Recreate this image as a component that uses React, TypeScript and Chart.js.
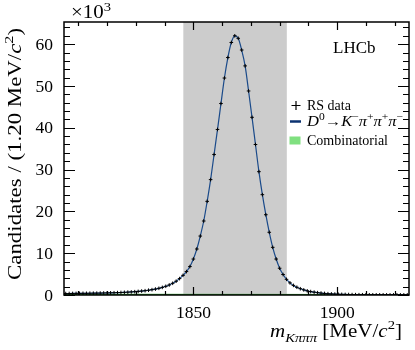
import React, { useEffect, useRef } from "react";
import { Chart, registerables } from "chart.js";

Chart.register(...registerables);

// Bin centres of m(Kπππ) in MeV/c^2 (1.20 MeV/c^2 bins)
const massBins = [
  1805.6, 1806.8, 1808.0, 1809.2, 1810.4, 1811.6, 1812.8, 1814.0, 1815.2, 1816.4,
  1817.6, 1818.8, 1820.0, 1821.2, 1822.4, 1823.6, 1824.8, 1826.0, 1827.2, 1828.4,
  1829.6, 1830.8, 1832.0, 1833.2, 1834.4, 1835.6, 1836.8, 1838.0, 1839.2, 1840.4,
  1841.6, 1842.8, 1844.0, 1845.2, 1846.4, 1847.6, 1848.8, 1850.0, 1851.2, 1852.4,
  1853.6, 1854.8, 1856.0, 1857.2, 1858.4, 1859.6, 1860.8, 1862.0, 1863.2, 1864.4,
  1865.6, 1866.8, 1868.0, 1869.2, 1870.4, 1871.6, 1872.8, 1874.0, 1875.2, 1876.4,
  1877.6, 1878.8, 1880.0, 1881.2, 1882.4, 1883.6, 1884.8, 1886.0, 1887.2, 1888.4,
  1889.6, 1890.8, 1892.0, 1893.2, 1894.4, 1895.6, 1896.8, 1898.0, 1899.2, 1900.4,
  1901.6, 1902.8, 1904.0, 1905.2, 1906.4, 1907.6, 1908.8, 1910.0, 1911.2, 1912.4,
  1913.6, 1914.8, 1916.0, 1917.2, 1918.4, 1919.6, 1920.8, 1922.0, 1923.2, 1924.4,
];

// RS data candidates per bin (x10^3)
const rsCandidates = [
  0.35, 0.36, 0.37, 0.38, 0.39, 0.40, 0.41, 0.42, 0.43, 0.44,
  0.46, 0.48, 0.50, 0.52, 0.54, 0.57, 0.60, 0.64, 0.68, 0.73,
  0.79, 0.86, 0.94, 1.03, 1.14, 1.27, 1.42, 1.60, 1.82, 2.08,
  2.40, 2.80, 3.30, 3.92, 4.70, 5.60, 6.80, 8.60, 11.0, 14.1,
  17.7, 22.4, 27.6, 33.6, 39.6, 45.8, 51.9, 56.8, 60.4, 62.0,
  61.4, 58.6, 54.8, 48.8, 42.5, 36.0, 29.5, 24.0, 19.2, 15.0,
  11.4, 8.6, 6.4, 4.9, 3.75, 2.9, 2.3, 1.85, 1.50, 1.22,
  1.00, 0.82, 0.68, 0.56, 0.46, 0.38, 0.31, 0.26, 0.22, 0.18,
  0.15, 0.13, 0.11, 0.09, 0.08, 0.07, 0.06, 0.05, 0.05, 0.04,
  0.04, 0.04, 0.04, 0.03, 0.03, 0.03, 0.03, 0.03, 0.03, 0.03,
];

// Total fit (D0 -> K- pi+ pi+ pi-), evaluated at the bin centres (x10^3)
const fitValues = rsCandidates;

// Combinatorial background (x10^3)
const combMass = [1805, 1925];
const combValues = [0.12, 0.08];

// Signal window (grey band)
const signalWindow = [1846.5, 1882.5];

// Axes
const xRange = [1805, 1925];
const yRange = [0, 65.3];
const xMajorTicks = [1850, 1900];
const xMinorTicks = [1810, 1820, 1830, 1840, 1850, 1860, 1870, 1880, 1890, 1900, 1910, 1920];
const yMajorTicks = [0, 10, 20, 30, 40, 50, 60];
const yMinorStep = 2;

const FAM = '"Liberation Serif", "DejaVu Serif", "Times New Roman", serif';

type Seg = { t: string; it?: boolean; sup?: boolean; sub?: boolean };

function segFont(s: Seg, size: number) {
  const sz = s.sup || s.sub ? size * 0.7 : size;
  return `${s.it ? "italic " : ""}${sz}px ${FAM}`;
}

function drawRich(
  ctx: CanvasRenderingContext2D,
  segs: Seg[],
  x: number,
  y: number,
  size: number,
  align: "left" | "center" | "right",
  targetW?: number
) {
  let w = 0;
  for (const s of segs) {
    ctx.font = segFont(s, size);
    w += ctx.measureText(s.t).width;
  }
  const sx = targetW ? targetW / w : 1;
  const tw = w * sx;
  const start = align === "right" ? x - tw : align === "center" ? x - tw / 2 : x;
  ctx.save();
  ctx.translate(start, y);
  ctx.scale(sx, 1);
  ctx.textAlign = "left";
  ctx.textBaseline = "alphabetic";
  let cx = 0;
  for (const s of segs) {
    ctx.font = segFont(s, size);
    const dy = s.sup ? -0.4 * size : s.sub ? 0.25 * size : 0;
    ctx.fillText(s.t, cx, dy);
    cx += ctx.measureText(s.t).width;
  }
  ctx.restore();
}

const lhcbPlugin = {
  id: "lhcbStyle",
  beforeDatasetsDraw(chart: any) {
    const { ctx, chartArea: a, scales } = chart;
    const x = scales.x;
    ctx.save();
    ctx.fillStyle = "#cccccc";
    const x0 = x.getPixelForValue(signalWindow[0]);
    const x1 = x.getPixelForValue(signalWindow[1]);
    ctx.fillRect(x0, a.top, x1 - x0, a.bottom - a.top);
    ctx.restore();
  },
  afterDraw(chart: any) {
    const { ctx, chartArea: a, scales } = chart;
    const xs = scales.x;
    const ys = scales.y;
    ctx.save();
    ctx.strokeStyle = "#000";
    ctx.fillStyle = "#000";
    ctx.lineWidth = 1.5;
    ctx.strokeRect(a.left, a.top, a.right - a.left, a.bottom - a.top);

    // x ticks
    ctx.lineWidth = 1.2;
    ctx.beginPath();
    for (const v of xMinorTicks) {
      const px = Math.round(xs.getPixelForValue(v)) + 0.5;
      const len = xMajorTicks.includes(v) ? 8 : 4;
      ctx.moveTo(px, a.bottom);
      ctx.lineTo(px, a.bottom - len);
      ctx.moveTo(px, a.top);
      ctx.lineTo(px, a.top + len);
    }
    // y ticks
    for (let v = yRange[0]; v <= yRange[1]; v += yMinorStep) {
      const py = Math.round(ys.getPixelForValue(v)) + 0.5;
      const len = yMajorTicks.includes(v) ? 11 : 6;
      ctx.moveTo(a.left, py);
      ctx.lineTo(a.left + len, py);
      ctx.moveTo(a.right, py);
      ctx.lineTo(a.right - len, py);
    }
    ctx.stroke();

    // tick labels
    ctx.font = `17.5px ${FAM}`;
    ctx.textAlign = "right";
    ctx.textBaseline = "middle";
    for (const v of yMajorTicks) {
      ctx.fillText(String(v), a.left - 11, ys.getPixelForValue(v) + 1);
    }
    ctx.textAlign = "center";
    ctx.textBaseline = "alphabetic";
    for (const v of xMajorTicks) {
      ctx.fillText(String(v), xs.getPixelForValue(v), 318);
    }

    // exponent
    drawRich(ctx, [{ t: "×10" }, { t: "3", sup: true }], 71, 18, 18, "left", 40);

    // y title
    ctx.save();
    ctx.translate(21, 154);
    ctx.rotate(-Math.PI / 2);
    drawRich(
      ctx,
      [{ t: "Candidates / (1.20 MeV/" }, { t: "c", it: true }, { t: "2", sup: true }, { t: ")" }],
      0,
      0,
      19,
      "center",
      252
    );
    ctx.restore();

    // x title
    drawRich(
      ctx,
      [
        { t: "m", it: true },
        { t: "Kπππ", it: true, sub: true },
        { t: " [MeV/" },
        { t: "c", it: true },
        { t: "2", sup: true },
        { t: "]" },
      ],
      402,
      337,
      19,
      "right",
      132
    );

    // LHCb
    ctx.font = `17px ${FAM}`;
    ctx.textAlign = "left";
    ctx.fillText("LHCb", 333, 53);

    // legend
    ctx.lineWidth = 1.2;
    ctx.beginPath();
    ctx.moveTo(291.5, 105.5);
    ctx.lineTo(300.5, 105.5);
    ctx.moveTo(296, 101);
    ctx.lineTo(296, 110);
    ctx.stroke();
    drawRich(ctx, [{ t: "RS data" }], 307, 109.5, 14, "left");

    ctx.strokeStyle = "#0b3270";
    ctx.lineWidth = 2.5;
    ctx.beginPath();
    ctx.moveTo(290, 121.5);
    ctx.lineTo(301, 121.5);
    ctx.stroke();
    drawRich(
      ctx,
      [
        { t: "D", it: true },
        { t: "0", sup: true },
        { t: "→" },
        { t: "K", it: true },
        { t: "−", sup: true },
        { t: "π", it: true },
        { t: "+", sup: true },
        { t: "π", it: true },
        { t: "+", sup: true },
        { t: "π", it: true },
        { t: "−", sup: true },
      ],
      307,
      126,
      14,
      "left",
      96
    );

    ctx.fillStyle = "#80e080";
    ctx.fillRect(289.5, 136.5, 11, 8);
    ctx.fillStyle = "#000";
    drawRich(ctx, [{ t: "Combinatorial" }], 307, 144.5, 14, "left", 81);

    ctx.restore();
  },
};

export default function App() {
  const ref = useRef<HTMLCanvasElement>(null);
  useEffect(() => {
    document.body.style.margin = "0";
    const pts = (xs: number[], ys: number[]) => xs.map((m, i) => ({ x: m, y: ys[i] }));
    const chart = new Chart(ref.current as HTMLCanvasElement, {
      type: "line",
      data: {
        datasets: [
          {
            label: "RS data",
            data: pts(massBins, rsCandidates),
            showLine: false,
            pointStyle: "cross",
            pointRadius: 1.8,
            borderColor: "#000",
            backgroundColor: "#000",
            borderWidth: 1,
            order: 0,
          },
          {
            label: "D0 -> K- pi+ pi+ pi-",
            data: pts(massBins, fitValues),
            borderColor: "#1a4a8a",
            borderWidth: 1.2,
            pointRadius: 0,
            cubicInterpolationMode: "monotone",
            fill: false,
            order: 1,
          },
          {
            label: "Combinatorial",
            data: pts(combMass, combValues),
            borderColor: "#2ca02c",
            backgroundColor: "#80e080",
            borderWidth: 1.5,
            pointRadius: 0,
            fill: "origin",
            order: 2,
          },
        ],
      } as any,
      options: {
        animation: false,
        responsive: false,
        maintainAspectRatio: false,
        events: [],
        layout: { padding: { left: 64, right: 6, top: 22, bottom: 55 } },
        scales: {
          x: { type: "linear", min: xRange[0], max: xRange[1], display: false },
          y: { type: "linear", min: yRange[0], max: yRange[1], display: false },
        },
        plugins: { legend: { display: false }, tooltip: { enabled: false } },
      },
      plugins: [lhcbPlugin],
    });
    return () => chart.destroy();
  }, []);
  return (
    <canvas
      ref={ref}
      width={415}
      height={350}
      style={{ display: "block", width: 415, height: 350 }}
    />
  );
}
